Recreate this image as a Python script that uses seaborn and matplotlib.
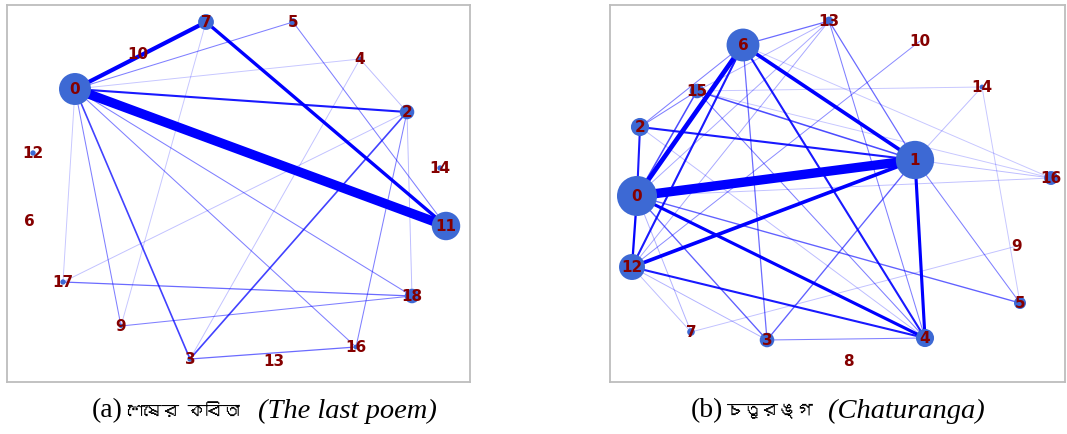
import numpy as np
import pandas as pd
import matplotlib
matplotlib.use("Agg")
import matplotlib.pyplot as plt
import seaborn as sns
from matplotlib import font_manager
from matplotlib.ft2font import FT2Font

# ---- panel (a): "The last poem" ----
a_nodes = [0, 7, 5, 10, 4, 2, 12, 14, 6, 11, 17, 18, 9, 3, 13, 16]
a_x = [75, 206, 293, 138, 360, 407, 33, 440, 29, 446, 63, 412, 121, 190, 274, 356]
a_y = [89, 22, 22, 54, 59, 112, 153, 168, 221, 226, 282, 296, 326, 359, 361, 347]
a_size = [530, 130, 30, 0, 12, 110, 15, 15, 0, 420, 15, 110, 10, 15, 0, 12]
a_edges = [(0, 11, 9), (0, 7, 4), (7, 11, 3.2), (0, 2, 2), (0, 3, 1.6), (2, 3, 1.6),
           (0, 5, 1), (0, 9, 1), (0, 18, 1), (0, 16, 1), (0, 17, 0.3), (0, 4, 0.3),
           (2, 17, 0.35), (2, 16, 1), (2, 18, 0.4), (2, 4, 0.4), (5, 11, 1),
           (17, 18, 1.2), (9, 18, 1), (3, 16, 1.2), (3, 4, 0.35), (7, 9, 0.3)]

# ---- panel (b): "Chaturanga" ----
b_nodes = [13, 6, 10, 15, 14, 2, 1, 16, 0, 9, 12, 5, 7, 3, 4, 8]
b_x = [829, 743, 920, 697, 982, 640, 915, 1051, 637, 1017, 632, 1020, 691, 767, 925, 848]
b_y = [21, 45, 41, 91, 87, 127, 160, 178, 196, 246, 267, 303, 332, 340, 338, 361]
b_size = [40, 560, 0, 110, 12, 170, 760, 100, 830, 0, 350, 75, 30, 110, 170, 0]
b_edges = [(0, 1, 9), (0, 6, 4.5), (6, 1, 3.5), (12, 1, 3.5), (1, 4, 3), (0, 4, 3),
           (2, 1, 2), (0, 2, 2), (0, 12, 2.2), (12, 4, 2), (6, 4, 2), (12, 6, 2),
           (0, 15, 1.5), (15, 1, 1.5), (2, 15, 1), (2, 6, 1), (6, 13, 1.2), (13, 1, 1.2),
           (13, 4, 1), (13, 0, 0.6), (13, 12, 0.6), (13, 15, 0.5), (6, 3, 1.2), (0, 3, 1.3),
           (0, 5, 1.3), (1, 3, 1.3), (1, 5, 1), (3, 4, 1), (12, 3, 0.5), (0, 7, 0.5),
           (12, 7, 0.4), (7, 9, 0.35), (1, 14, 0.4), (1, 16, 0.4), (0, 16, 0.35),
           (14, 5, 0.3), (15, 4, 1), (2, 4, 0.4), (10, 12, 0.9), (15, 16, 0.3),
           (14, 15, 0.3), (6, 16, 0.3)]

cap_tags = ["(a)", "(b)"]
cap_bn = ["শেষের কবিতা", "চতুরঙ্গ"]
cap_en = ["(The last poem)", "(Chaturanga)"]

sns.set_style("white")


def find_bengali_font():
    # look for any installed font that carries Bengali glyphs
    for f in font_manager.fontManager.ttflist:
        try:
            if 0x09B6 in FT2Font(f.fname).get_charmap():
                return f.name
        except Exception:
            pass
    return None


beng = find_bengali_font()
serif = ["Liberation Serif"] + ([beng] if beng else []) + ["DejaVu Serif"]
bn_family = ([beng] if beng else []) + ["Liberation Serif", "DejaVu Serif"]

fig = plt.figure(figsize=(10.67, 4.34), dpi=100)
ax_a = fig.add_axes([7 / 1067, 1 - 382 / 434, 463 / 1067, 377 / 434])
ax_b = fig.add_axes([610 / 1067, 1 - 382 / 434, 455 / 1067, 377 / 434])


def draw_graph(ax, nodes, xs, ys, sizes, edges, xlim, ylim):
    pos = {n: (x, y) for n, x, y in zip(nodes, xs, ys)}
    for u, v, w in edges:
        (x0, y0), (x1, y1) = pos[u], pos[v]
        ax.plot([x0, x1], [y0, y1], color="#0000ff", lw=max(0.7, 0.75 * w),
                alpha=float(np.clip(0.1 + 0.4 * w, 0, 1)), solid_capstyle="butt", zorder=1)
    df = pd.DataFrame({"x": xs, "y": ys, "s": sizes})
    sns.scatterplot(data=df, x="x", y="y", size="s", sizes=(0, 900), size_norm=(0, 900),
                    color="#3d69d4", edgecolor="none", legend=False, ax=ax, zorder=2)
    for n, x, y in zip(nodes, xs, ys):
        ax.text(x, y, str(n), color="#850000", fontsize=11, fontweight="bold",
                ha="center", va="center", zorder=3)
    ax.set_xlim(*xlim)
    ax.set_ylim(*ylim)
    ax.set_xticks([])
    ax.set_yticks([])
    ax.set_xlabel("")
    ax.set_ylabel("")
    for sp in ax.spines.values():
        sp.set_color("#bdbdbd")
        sp.set_linewidth(1.3)


draw_graph(ax_a, a_nodes, a_x, a_y, a_size, a_edges, (7, 470), (382, 5))
draw_graph(ax_b, b_nodes, b_x, b_y, b_size, b_edges, (610, 1065), (382, 5))

# captions under each panel: tag, Bengali title, italic English gloss
cy = 1 - 411 / 434
for tag_x, bn_x, en_x, tag, bn, en in zip([92, 691], [127, 727], [258, 828],
                                          cap_tags, cap_bn, cap_en):
    fig.text(tag_x / 1067, cy, tag, family=serif, fontsize=20, color="black",
             ha="left", va="center")
    fig.text(bn_x / 1067, cy, bn, family=bn_family, fontsize=12.5, color="black",
             ha="left", va="center")
    fig.text(en_x / 1067, cy, en, family=serif, fontsize=20.5, style="italic",
             color="black", ha="left", va="center")

fig.savefig("out.png", dpi=100)
